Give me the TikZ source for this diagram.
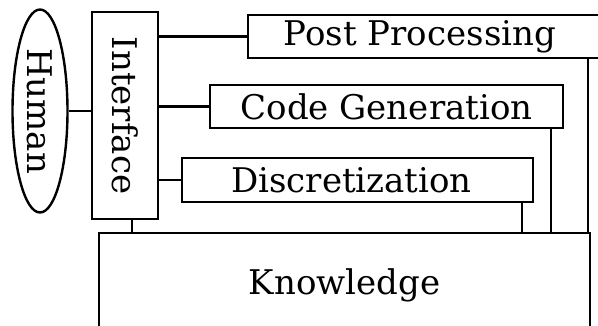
\documentclass[tikz,border=0pt]{standalone}
\usepackage{fontspec}
\setmainfont{DejaVu Serif}
\usetikzlibrary{shapes.geometric,calc}
\begin{document}
\begin{tikzpicture}[x=1pt,y=-1pt,
  every node/.style={font=\fontsize{34}{40}\selectfont},
  boxstyle/.style={draw,line width=2.4pt,rectangle,inner sep=0pt},
  link/.style={line width=2.4pt}]
\useasboundingbox (0,0) rectangle (598,326);
\node[draw,line width=2.4pt,ellipse,inner sep=0pt,minimum width=55pt,minimum height=203pt] (human) at (40,111) {\rotatebox{-90}{Human}};
\node[boxstyle,minimum width=66pt,minimum height=207pt] (interface) at (125,115.5) {\rotatebox{-90}{Interface}};
\node[boxstyle,minimum width=362pt,minimum height=43pt] (post) at (429,36.5) {\hspace{-18pt}Post Processing};
\node[boxstyle,minimum width=353pt,minimum height=43pt] (code) at (386.5,106.5) {Code Generation};
\node[boxstyle,minimum width=351pt,minimum height=44pt] (disc) at (357.5,180) {\hspace{-12pt}Discretization};
\node[boxstyle,minimum width=491pt,minimum height=104pt] (know) at (344.5,285) {Knowledge};
\draw[link] (human.east) -- (interface.west |- human.east);
\draw[link] (interface.east |- post.west) -- (post.west);
\draw[link] (interface.east |- code.west) -- (code.west);
\draw[link] (interface.east |- disc.west) -- (disc.west);
\draw[link] ([xshift=7pt]interface.south) -- ([xshift=7pt]interface.south |- know.north);
\draw[link] ([xshift=-12pt]disc.south east) -- ([xshift=-12pt]disc.south east |- know.north);
\draw[link] ([xshift=-13pt]code.south east) -- ([xshift=-13pt]code.south east |- know.north);
\draw[link] ([xshift=-3pt]know.north east) -- ([xshift=-3pt]know.north east |- post.south);
\end{tikzpicture}
\end{document}
